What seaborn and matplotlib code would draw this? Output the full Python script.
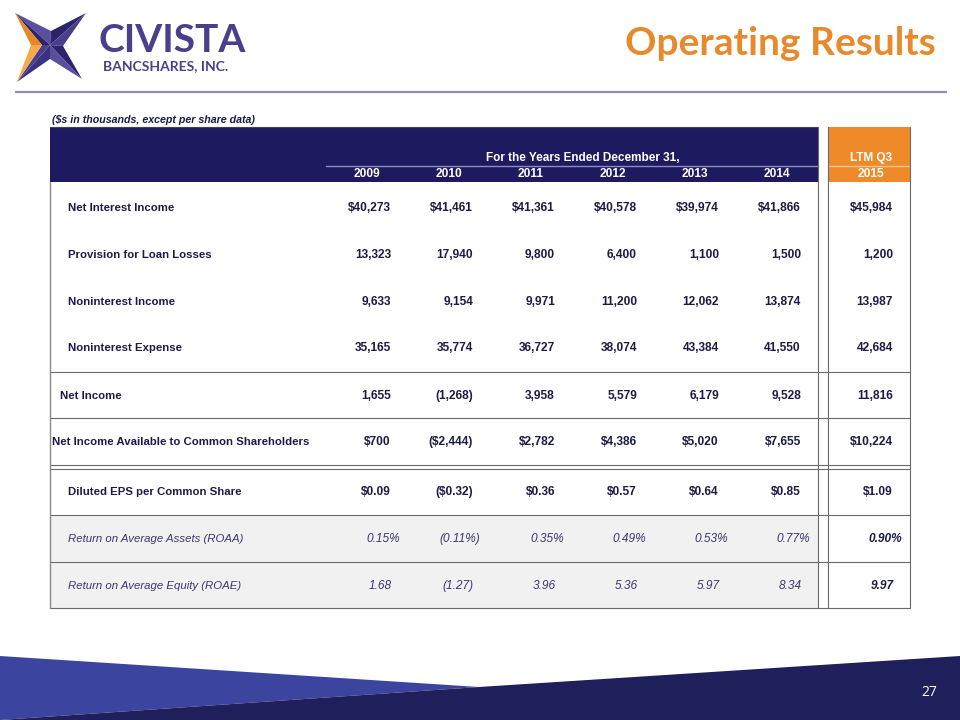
import matplotlib
matplotlib.use("Agg")
import matplotlib.pyplot as plt
from matplotlib.patches import Polygon, Rectangle
import seaborn as sns

# ---------------- data ----------------
years = ["2009", "2010", "2011", "2012", "2013", "2014"]
ltm_label = "LTM Q3"
ltm_year = "2015"
header_title = "For the Years Ended December 31,"
subtitle = "($s in thousands, except per share data)"
title = "Operating Results"

row_labels = [
    "Net Interest Income",
    "Provision for Loan Losses",
    "Noninterest Income",
    "Noninterest Expense",
    "Net Income",
    "Net Income Available to Common Shareholders",
    "Diluted EPS per Common Share",
    "Return on Average Assets (ROAA)",
    "Return on Average Equity (ROAE)",
]
net_interest_income = [40273, 41461, 41361, 40578, 39974, 41866, 45984]
provision_loan_losses = [13323, 17940, 9800, 6400, 1100, 1500, 1200]
noninterest_income = [9633, 9154, 9971, 11200, 12062, 13874, 13987]
noninterest_expense = [35165, 35774, 36727, 38074, 43384, 41550, 42684]
net_income = [1655, -1268, 3958, 5579, 6179, 9528, 11816]
net_income_common = [700, -2444, 2782, 4386, 5020, 7655, 10224]
diluted_eps = [0.09, -0.32, 0.36, 0.57, 0.64, 0.85, 1.09]
roaa = [0.15, -0.11, 0.35, 0.49, 0.53, 0.77, 0.90]
roae = [1.68, -1.27, 3.96, 5.36, 5.97, 8.34, 9.97]

rows = [net_interest_income, provision_loan_losses, noninterest_income,
        noninterest_expense, net_income, net_income_common, diluted_eps,
        roaa, roae]
row_formats = ["usd0", "int0", "int0", "int0", "int0", "usd0", "usd2", "pct2", "num2"]


def fmt(v, kind):
    a = abs(v)
    if kind == "usd0":
        s = f"${a:,.0f}"
    elif kind == "int0":
        s = f"{a:,.0f}"
    elif kind == "usd2":
        s = f"${a:.2f}"
    elif kind == "pct2":
        s = f"{a:.2f}%"
    else:
        s = f"{a:.2f}"
    return f"({s})" if v < 0 else s


# ---------------- style ----------------
sns.set_theme(style="white")
plt.rcParams["font.family"] = ["Liberation Sans", "DejaVu Sans"]

NAVY = "#1e1a60"
ORANGE = "#ef8a2a"
TXT = "#1c1b45"
ITXT = "#3a3670"
GRID = "#6a6a6a"
PURPLE = "#4a3f8c"

fig = plt.figure(figsize=(9.6, 7.2), dpi=100)
ax = fig.add_axes([0, 0, 1, 1])
ax.set_xlim(0, 960)
ax.set_ylim(720, 0)
ax.axis("off")

# ---------------- logo ----------------
C = (50, 45)
TL, TR, BR, BL = (15, 13), (86, 13), (82, 79), (17, 82)
NT, NR, NB, NL = (51, 31), (63, 46), (50, 59), (42, 45)
facets = [
    ([TL, NT, C], "#5a4f9e"),
    ([NT, TR, C], "#2c2468"),
    ([TR, NR, C], "#4a3f8c"),
    ([NR, BR, C], "#2c2468"),
    ([BR, NB, C], "#5a4f9e"),
    ([NB, BL, C], "#3b3180"),
    ([BL, NL, C], "#4a3f8c"),
    ([NL, TL, C], "#2c2468"),
]
for pts, col in facets:
    ax.add_patch(Polygon(pts, closed=True, facecolor=col, edgecolor="none"))
ax.add_patch(Polygon([TL, NL, (31, 45)], closed=True, facecolor="#e8872a", edgecolor="none"))
ax.add_patch(Polygon([(31, 45), NL, BL], closed=True, facecolor="#f6aa48", edgecolor="none"))

ax.text(99, 52, "CIVISTA", fontsize=28, fontweight="bold", color=PURPLE,
        family=["Lato", "DejaVu Sans"], va="baseline", ha="left")
ax.text(103, 66, "BANCSHARES, INC.", fontsize=10, fontweight="bold", color=PURPLE,
        family=["Lato", "DejaVu Sans"], va="center", ha="left")

# title
ax.text(936, 55, title, fontsize=28, fontweight="bold", color="#e8892c",
        family=["Lato", "DejaVu Sans"], va="baseline", ha="right")

# rule
ax.plot([15, 947], [92, 92], color="#8e8fbf", lw=1.6, solid_capstyle="butt")

# subtitle
ax.text(52, 120, subtitle, fontsize=7.7, fontweight="bold", style="italic",
        color=TXT, va="center", ha="left")

# ---------------- table geometry ----------------
x_left, x_navy_r, x_or_l, x_right = 50, 818, 828, 910
y_top, y_sep, y_head_b = 127, 166, 182
col_right = [391 + 82 * i for i in range(6)] + [893]
col_center = [367 + 82 * i for i in range(6)] + [871]
row_y = [208, 255, 302, 348, 396, 442, 492, 539, 586]
label_x = [68, 68, 68, 68, 60, 52, 68, 68, 68]
hlines = [372, 418, 465, 469, 515, 562, 608]

# gray rows
ax.add_patch(Rectangle((x_left, 515), x_navy_r - x_left, 608 - 515,
                       facecolor="#f1f1f1", edgecolor="none"))
# header
ax.add_patch(Rectangle((x_left, y_top), x_navy_r - x_left, y_head_b - y_top,
                       facecolor=NAVY, edgecolor="none"))
ax.add_patch(Rectangle((x_or_l, y_top), x_right - x_or_l, y_head_b - y_top,
                       facecolor=ORANGE, edgecolor="none"))
ax.plot([326, x_navy_r], [y_sep, y_sep], color="#8d8cc0", lw=1.0)
ax.plot([x_or_l, x_right], [y_sep, y_sep], color="#f8c490", lw=1.0)
ax.plot([x_left, x_navy_r], [y_top, y_top], color="#444444", lw=0.8)

ax.text(583, 158, header_title, fontsize=8.5, fontweight="bold", color="white",
        ha="center", va="center")
ax.text(col_center[6], 158, ltm_label, fontsize=8.5, fontweight="bold", color="white",
        ha="center", va="center")
for i, yr in enumerate(years):
    ax.text(col_center[i], 174, yr, fontsize=8.6, fontweight="bold", color="white",
            ha="center", va="center")
ax.text(col_center[6], 174, ltm_year, fontsize=8.6, fontweight="bold", color="white",
        ha="center", va="center")

# grid lines
for y in hlines:
    ax.plot([x_left, x_right], [y, y], color=GRID, lw=0.8)
ax.plot([x_left, x_left], [y_head_b, 608], color="#8a8a8a", lw=1.0)
ax.plot([x_navy_r, x_navy_r], [y_top, 608], color=GRID, lw=0.8)
ax.plot([x_or_l, x_or_l], [y_top, 608], color=GRID, lw=0.8)
ax.plot([x_right, x_right], [y_top, 608], color=GRID, lw=0.8)

# body
for r, (lab, vals, kind) in enumerate(zip(row_labels, rows, row_formats)):
    italic = kind in ("pct2", "num2")
    ax.text(label_x[r], row_y[r], lab, fontsize=8.2,
            fontweight="normal" if italic else "bold",
            style="italic" if italic else "normal",
            color=ITXT if italic else TXT, ha="left", va="center")
    for c, v in enumerate(vals):
        s = fmt(v, kind)
        xr = col_right[c] + (9 if kind == "pct2" else (1 if kind == "num2" else 0))
        if kind == "pct2" and v < 0:
            xr -= 2
        bold = (not italic) or c == 6
        ax.text(xr, row_y[r], s, fontsize=8.6,
                fontweight="bold" if bold else "normal",
                style="italic" if italic else "normal",
                color=(TXT if (not italic or c == 6) else ITXT),
                ha="right", va="center")

# ---------------- bottom banner ----------------
ax.add_patch(Polygon([(0, 656), (479, 687), (0, 720)], closed=True,
                     facecolor="#3b459f", edgecolor="none"))
ax.add_patch(Polygon([(960, 656), (479, 687), (0, 720), (960, 720)], closed=True,
                     facecolor="#1f1f5c", edgecolor="none"))
ax.text(929, 693, "27", fontsize=10, color="white", ha="center", va="center",
        family=["Open Sans", "DejaVu Sans"])

fig.savefig("out.png", dpi=100, facecolor="white")
